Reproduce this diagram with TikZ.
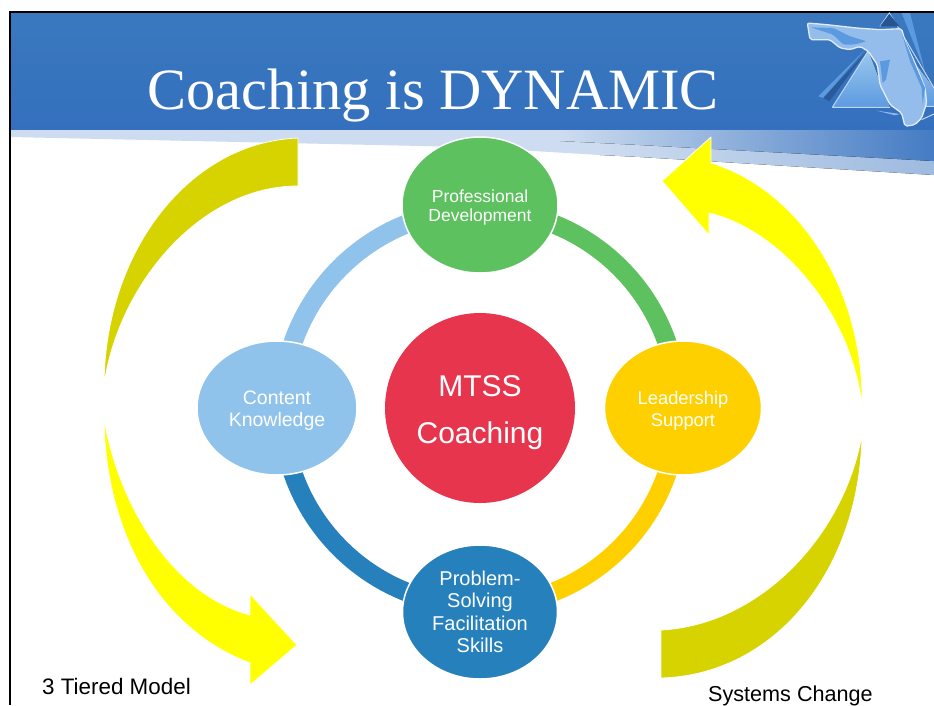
\documentclass[tikz,border=0pt]{standalone}
\usepackage{fontspec}
\setmainfont{Liberation Sans}
\newfontfamily\titlefont{Liberation Serif}
\usetikzlibrary{calc}
\usetikzlibrary{backgrounds}
\usetikzlibrary{shapes.geometric}
\definecolor{headblue}{HTML}{3470BE}
\definecolor{headtop}{HTML}{3A78BE}
\definecolor{bandlight}{HTML}{CDDCF0}
\definecolor{olive}{HTML}{D6D300}
\definecolor{brightyellow}{RGB}{255,255,0}
\definecolor{topic1}{HTML}{5CC15E}
\definecolor{topic2}{HTML}{FFD000}
\definecolor{topic3}{HTML}{2680BC}
\definecolor{topic4}{HTML}{90C3EC}
\definecolor{hub}{HTML}{E8354E}
\definecolor{logo}{HTML}{94BDEC}
\definecolor{logomid}{HTML}{5C9AE0}
\tikzset{
  topic/.style={ellipse, fill=#1, draw=white, line width=1.5pt, text=white, align=center, inner sep=0pt},
  ringarc/.style={line width=19pt, draw=#1},
  bigarrow/.style={fill=#1, draw=white, line width=.8pt, line join=bevel},
  corner/.style={text=black, inner sep=0pt}
}
\begin{document}
\begin{tikzpicture}[x=1pt, y=-1pt]
\useasboundingbox (0,0) rectangle (934,705);

\node[circle, fill=hub, minimum size=190pt, text=white, align=center, inner sep=0pt,
  font=\fontsize{30}{47}\selectfont] (hubnode) at (480,408) {\rule{0pt}{31pt}MTSS\\Coaching};
\node[topic=topic1, minimum width=156pt, minimum height=136pt, font=\fontsize{17.5}{19}\selectfont] (prof) at (480,205) {\rule{0pt}{18pt}Professional\\Development};
\node[topic=topic2, minimum width=157pt, minimum height=134pt, font=\fontsize{18.3}{22}\selectfont] (lead) at (683,408) {\rule{0pt}{19.5pt}Leadership\\Support};
\node[topic=topic3, minimum width=155pt, minimum height=134pt, font=\fontsize{20}{22.5}\selectfont] (prob) at (480,612) {Problem-\\Solving\\Facilitation\\Skills};
\node[topic=topic4, minimum width=160pt, minimum height=134pt, font=\fontsize{19.5}{22}\selectfont] (cont) at (277,408) {\rule{0pt}{20pt}Content\\Knowledge};

\node[corner, anchor=base west, font=\fontsize{22.4}{26}\selectfont] (tiered) at (42,694) {3 Tiered Model};
\node[corner, anchor=base west, font=\fontsize{21.6}{26}\selectfont] (systems) at (708,701) {Systems Change};

\coordinate (ringtop) at ($(hubnode)+(0,-198)$);
\coordinate (ringright) at ($(hubnode)+(198,0)$);
\coordinate (ringbottom) at ($(hubnode)+(0,198)$);
\coordinate (ringleft) at ($(hubnode)+(-198,0)$);

\begin{scope}[on background layer]
% slide and title band
\fill[white] (0,0) rectangle (934,705);
\fill[bandlight] (11,128)--(600,128)--(600,155)--(467,147)--(11,137)--cycle;
\fill[left color=bandlight, right color=headblue!48!white] (600,128)--(934,128)--(934,175)--(640,157)--(600,155)--cycle;
\fill[left color=bandlight, right color=headblue!92!white] (560,128)--(934,128)--(934,161)--(640,145)--(560,141)--cycle;
\fill[top color=headtop, bottom color=headblue] (11,13) rectangle (934,129);
\draw[black, line width=2.4pt] (10,705)--(10,12)--(934,12);

% logo
\begin{scope}[shift={(800,8)}, x=.3333pt, y=-.3333pt]
\fill[logomid] (305,15)--(330,15)--(375,190)--cycle;
\fill[logomid] (55,265)--(195,125)--(70,270)--cycle;
\fill[headblue!80!black] (70,270)--(200,130)--(88,280)--cycle;
\fill[logomid!70!white] (230,308)--(300,318)--(285,322)--cycle;
\fill[top color=topic4!90!white, bottom color=logomid] (97,298)--(205,128)--(270,298)--cycle;
\fill[top color=logo, bottom color=logomid] (345,165)--(402,240)--(402,295)--(375,295)--cycle;
\draw[logo!60!white, line width=1pt] (97,298)--(205,128) (97,298)--(270,298) (305,75)--(402,240) (375,295)--(402,295) (240,55)--(268,15)--(305,75) (365,335)--(402,318);
\fill[headblue!75!black] (240,55)--(268,18)--(298,55)--cycle;
\draw[white!70!logo, line width=1.3pt, fill=logo, rounded corners=2pt] (22,45)--(80,50)--(170,60)--(240,65)--(305,62)--(315,100)--(345,165)--(375,240)--(380,285)--(365,330)--(345,350)--(315,355)--(305,315)--(270,290)--(240,230)--(232,170)--(205,130)--(180,115)--(150,125)--(120,120)--(90,95)--(30,95)--cycle;
\fill[logomid, rounded corners=2pt] (32,58)--(100,80)--(130,110)--(160,110)--(200,100)--(150,85)--(100,60)--cycle;
\fill[logomid] (305,75)--(330,160)--(365,240)--(368,290)--(375,240)--(345,170)--cycle;
\fill[logomid] (240,160)--(270,155)--(258,215)--(248,225)--cycle;
\end{scope}

% ring
\draw[ringarc=topic1] (ringtop) to[out=0, in=90] (ringright);
\draw[ringarc=topic2] (ringright) to[out=-90, in=0] (ringbottom);
\draw[ringarc=topic3] (ringbottom) to[out=180, in=-90] (ringleft);
\draw[ringarc=topic4] (ringleft) to[out=90, in=180] (ringtop);

% big arrows
\draw[bigarrow=olive] (298,138) .. controls (190,142) and (105,250) .. (104,385) .. controls (118,285) and (200,186) .. (298,186) --cycle;
\draw[bigarrow=brightyellow] (104,419) .. controls (105,520) and (150,625) .. (250,663)--(250,685)--(297,645)--(250,594)--(250,615) .. controls (175,595) and (120,510) .. cycle;
\draw[bigarrow=brightyellow] (711,137)--(662,181)--(709,235)--(709,213) .. controls (780,230) and (850,310) .. (862,405) .. controls (864,290) and (800,190) .. (711,163) --cycle;
\draw[bigarrow=olive] (661,630) .. controls (760,625) and (845,535) .. (862,434) .. controls (860,570) and (775,675) .. (661,678) --cycle;
\end{scope}

\node[white, anchor=base, font=\titlefont\fontsize{58.5}{70}\selectfont] (title) at (433,109) {Coaching is DYNAMIC};
\end{tikzpicture}
\end{document}
